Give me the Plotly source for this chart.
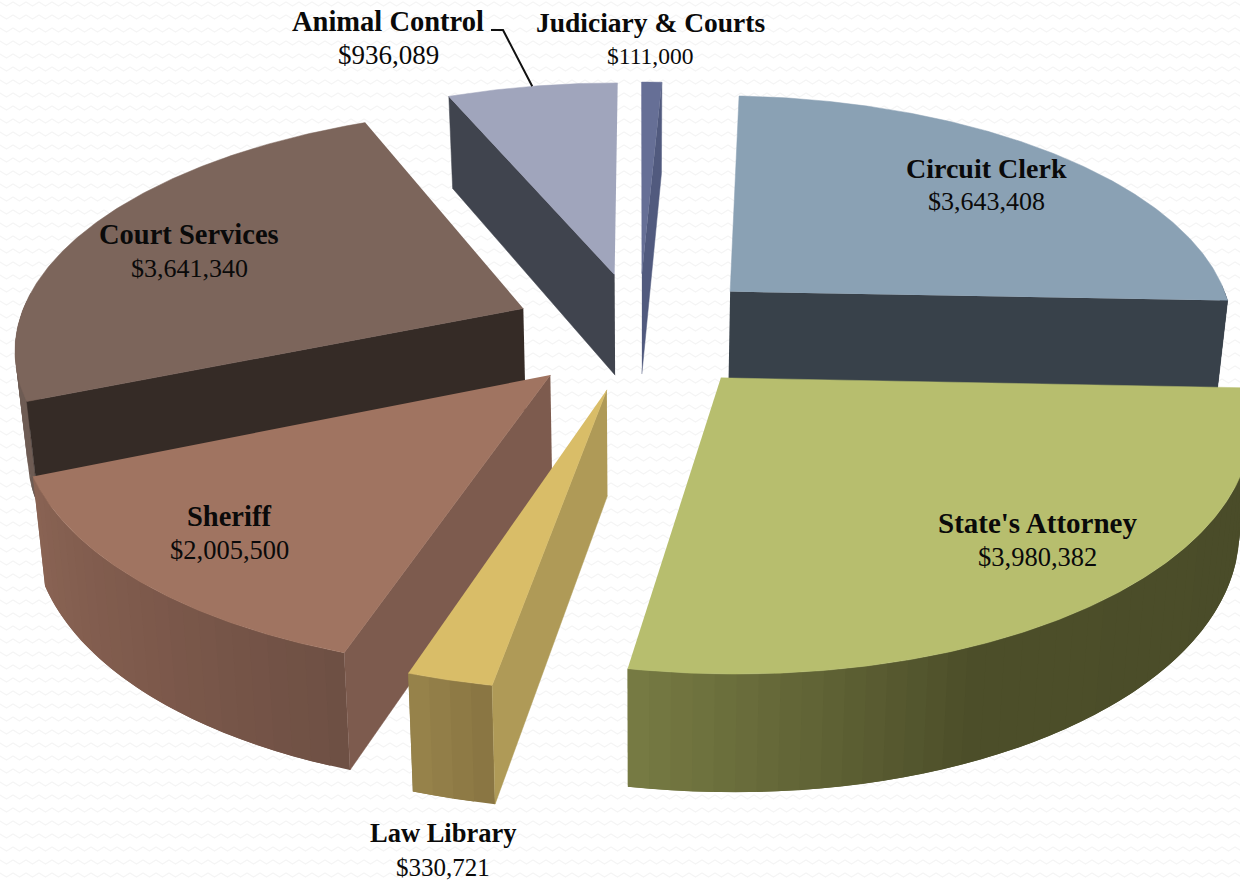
import math
import numpy as np
import plotly.graph_objects as go

# ---- data (clockwise from 12 o'clock) ----
categories = ["Judiciary & Courts", "Circuit Clerk", "State's Attorney", "Law Library",
              "Sheriff", "Court Services", "Animal Control"]
values = [111000, 3643408, 3980382, 330721, 2005500, 3641340, 936089]

# ---- perspective projection of the tilted, exploded pie onto the pixel axes ----
CX, CY = 639, 330.5
A, B = 507, 236     # unit radius on screen
K = 0.15            # perspective strength
E = 0.25            # explosion, in radii
DEPTH = 103


def project(mid, r, theta, lower=False):
    t, m = math.radians(theta), math.radians(mid)
    X = E * math.sin(m) + r * math.sin(t)
    Y = -(E * math.cos(m) + r * math.cos(t))
    s = 1 / (1 - K * Y)
    x, y = CX + A * X * s, CY + B * Y * s
    if lower:
        return x - 0.02 * (x - CX), y + DEPTH * s ** 0.7
    return x, y


def lerp(stops, u):
    u = min(max(u, 0), 1) * (len(stops) - 1)
    i = min(int(u), len(stops) - 2)
    f = u - i
    c = [stops[i][k] * (1 - f) + stops[i + 1][k] * f for k in range(3)]
    return "rgb(%d,%d,%d)" % tuple(c)


# ---- styles ----
STYLE = {
    "Judiciary & Courts": dict(top="#666F96", face="#515A7E", side="end", wall=[(81, 90, 126), (81, 90, 126)]),
    "Circuit Clerk": dict(top="#8AA1B4", face="#38414A", side="end", wall=[(56, 65, 74), (56, 65, 74)]),
    "State's Attorney": dict(top="#B7BE6E", face=None, side=None,
                             wall=[(74, 76, 41), (75, 77, 41), (77, 79, 42), (120, 124, 68)]),
    "Law Library": dict(top="#D9BD68", face="#AF9A57", side="start", wall=[(136, 116, 66), (152, 132, 76)]),
    "Sheriff": dict(top="#A07461", face="#7D5B4E", side="start", wall=[(110, 80, 68), (126, 90, 76), (138, 100, 84)]),
    "Court Services": dict(top="#7C655B", face="#352B26", side="start", wall=[(110, 92, 84), (110, 92, 84)]),
    "Animal Control": dict(top="#A0A5BC", face="#40444E", side="start", wall=[(64, 68, 78), (64, 68, 78)]),
}
DRAW_ORDER = ["Judiciary & Courts", "Animal Control", "Court Services", "Circuit Clerk",
              "State's Attorney", "Sheriff", "Law Library"]
# x, name y, value y, name font size, value font size
LABEL_POS = {
    "Judiciary & Courts": (650, 22, 56, 27.5, 23.5),
    "Circuit Clerk": (986, 168, 201, 28, 26),
    "State's Attorney": (1037, 523, 557, 29, 26.5),
    "Law Library": (443, 833, 867, 26.5, 25),
    "Sheriff": (229, 516, 550, 28.5, 26.5),
    "Court Services": (189, 234, 268, 28.5, 26),
    "Animal Control": (388, 21, 55, 28.5, 27),
}

total = sum(values)
spans, acc = {}, 0.0
for c, v in zip(categories, values):
    a0 = acc / total * 360
    acc += v
    spans[c] = (a0, acc / total * 360)

fig = go.Figure()


def poly(pts, color, lw=0.5):
    fig.add_trace(go.Scatter(x=[q[0] for q in pts], y=[q[1] for q in pts], mode="lines", fill="toself",
                             fillcolor=color, line=dict(color=color, width=lw),
                             hoverinfo="skip", showlegend=False))


# faint wavy page texture
wx, wy = [], []
for row in np.arange(4, 882, 13.0):
    xs = np.arange(0, 1246, 6.5)
    wx += list(xs) + [None]
    wy += [row + (2 if k % 2 else -2) for k in range(len(xs))] + [None]
fig.add_trace(go.Scatter(x=wx, y=wy, mode="lines", line=dict(color="#f5f5f5", width=1.2),
                         hoverinfo="skip", showlegend=False))

for name in DRAW_ORDER:
    a0, a1 = spans[name]
    mid = (a0 + a1) / 2
    st = STYLE[name]
    # outer wall, shaded strip by strip; each strip overlaps the next so no seams show
    n = max(int((a1 - a0) / 2), 2)
    th = np.linspace(a0, a1, n + 1)
    for j in range(n):
        if math.cos(math.radians(th[j])) > 0.02 and math.cos(math.radians(th[j + 1])) > 0.02:
            continue
        e = th[min(j + 2, n)]
        sub = np.linspace(th[j], e, 4)
        pts = [project(mid, 1, t) for t in sub] + [project(mid, 1, t, True) for t in sub[::-1]]
        poly(pts, lerp(st["wall"], (j + 0.5) / n), lw=0)
    # radial face
    if st["side"]:
        e = a0 if st["side"] == "start" else a1
        poly([project(mid, 0, 0), project(mid, 1, e), project(mid, 1, e, True), project(mid, 0, 0, True)],
             st["face"])
    # top surface
    arc = [project(mid, 1, t) for t in np.linspace(a0, a1, max(int(a1 - a0) * 2, 4))]
    poly([project(mid, 0, 0)] + arc, st["top"])

# leader line of the Animal Control label
a0, a1 = spans["Animal Control"]
lead = project((a0 + a1) / 2, 1, a0 + 11.5)
fig.add_trace(go.Scatter(x=[491, 503, lead[0]], y=[30, 30, lead[1]], mode="lines",
                         line=dict(color="#111111", width=2), hoverinfo="skip", showlegend=False))

for c, v in zip(categories, values):
    x, y1, y2, s1, s2 = LABEL_POS[c]
    fig.add_annotation(x=x, y=y1, text="<b>%s</b>" % c, showarrow=False,
                       font=dict(family="Liberation Serif", size=s1, color="#0a0a0a"))
    fig.add_annotation(x=x, y=y2, text="${:,}".format(v), showarrow=False,
                       font=dict(family="Liberation Serif", size=s2, color="#0a0a0a"))

fig.update_layout(width=1240, height=882, margin=dict(l=0, r=0, t=0, b=0), autosize=False,
                  paper_bgcolor="#ffffff", plot_bgcolor="#ffffff", showlegend=False,
                  xaxis=dict(range=[0, 1240], visible=False, fixedrange=True),
                  yaxis=dict(range=[882, 0], visible=False, fixedrange=True))
fig.write_html("out.html", config=dict(displayModeBar=False),
               post_script="document.body.style.margin='0';document.documentElement.style.overflow='hidden';")
